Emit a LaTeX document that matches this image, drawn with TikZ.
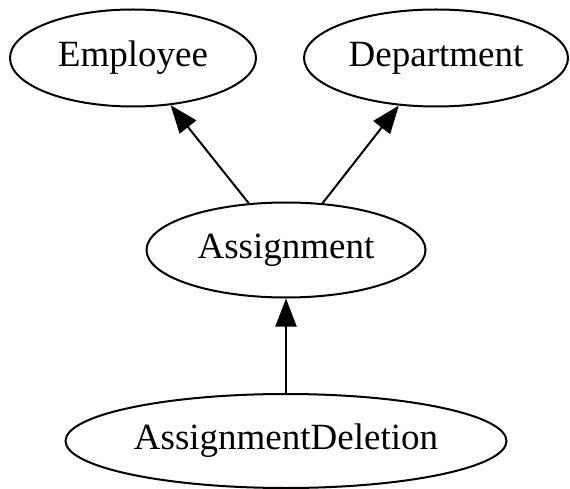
\documentclass[tikz,border=0pt]{standalone}
\usepackage{fontspec}
\setmainfont{Liberation Serif}
\usetikzlibrary{shapes.geometric,arrows.meta}
\begin{document}
\begin{tikzpicture}[x=1pt,y=-1pt,
  ent/.style={ellipse,draw,line width=2pt,inner sep=0pt,font=\fontsize{37}{44}\selectfont},
  link/.style={line width=2pt,-{Triangle[length=28pt,width=21pt]}}]
\useasboundingbox[fill=white] (0,0) rectangle (570,489);
\node[ent,minimum width=246pt,minimum height=97pt] (emp) at (133,58) {Employee};
\node[ent,minimum width=264pt,minimum height=97pt] (dep) at (436,58) {Department};
\node[ent,minimum width=279pt,minimum height=95pt] (asg) at (286,250) {Assignment};
\node[ent,minimum width=441pt,minimum height=94pt] (del) at (286,441) {AssignmentDeletion};
\draw[link] (asg) -- (emp);
\draw[link] (asg) -- (dep);
\draw[link] (del) -- (asg);
\end{tikzpicture}
\end{document}
